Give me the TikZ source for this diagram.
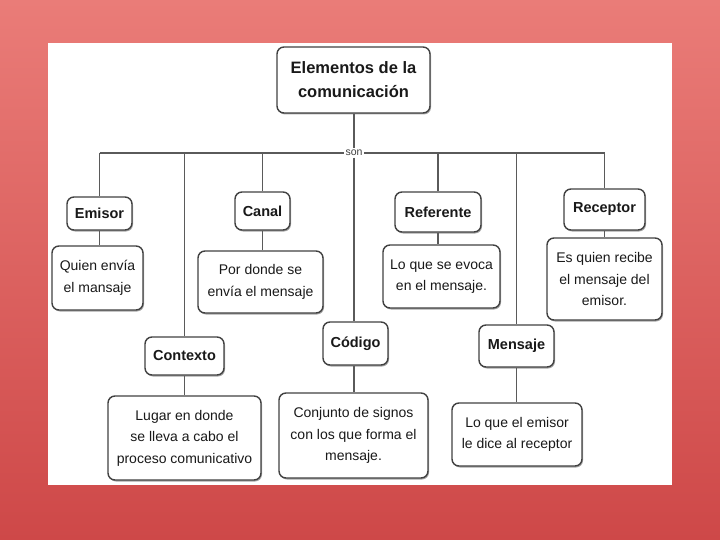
\documentclass[tikz,border=0pt]{standalone}
\usepackage{fontspec}
\setmainfont{Liberation Sans}
\usetikzlibrary{shadows}
\definecolor{bgtop}{RGB}{234,124,120}
\definecolor{bgbot}{RGB}{206,72,72}
\definecolor{edge}{RGB}{65,65,65}
\definecolor{conn}{RGB}{90,90,90}
\tikzset{
  box/.style={draw=edge, line width=1.4pt, rounded corners=7pt, fill=white,
    align=center, inner sep=0pt, text=black!90,
    drop shadow={shadow xshift=1pt, shadow yshift=-1.5pt, fill=black, opacity=0.35}},
  concept/.style={box, font=\bfseries\fontsize{14.5}{17}\selectfont},
  desc/.style={box, font=\fontsize{14}{21.5}\selectfont},
  conn/.style={draw=conn, line width=1.5pt}
}
\begin{document}
\begin{tikzpicture}[x=1pt,y=-1pt]
\shade[top color=bgtop, bottom color=bgbot] (0,0) rectangle (720,540);
\useasboundingbox (0,0) rectangle (720,540);
\fill[white] (48,43) rectangle (672,485);

% nodes
\node[concept, font=\bfseries\fontsize{16.5}{24}\selectfont, minimum width=153pt, minimum height=66pt] (title) at (353.5,80) {Elementos de la\\comunicación};
\node[font=\fontsize{10.5}{11}\selectfont, fill=white, inner sep=1.5pt, text=black!75] (son) at (354,153) {son};

\node[concept, minimum width=65pt, minimum height=33pt] (emisor) at (99.5,213.5) {Emisor};
\node[concept, minimum width=55pt, minimum height=38pt] (canal) at (262.5,211) {Canal};
\node[concept, minimum width=86pt, minimum height=40pt] (referente) at (438,212) {Referente};
\node[concept, minimum width=81pt, minimum height=41pt] (receptor) at (604.5,209.5) {Receptor};

\node[desc, minimum width=91pt, minimum height=64pt] (quien) at (97.5,278) {Quien envía\\el mansaje};
\node[desc, minimum width=125pt, minimum height=62pt] (pordonde) at (260.5,282) {Por donde se\\envía el mensaje};
\node[desc, minimum width=117pt, minimum height=63pt] (evoca) at (441.5,276.5) {Lo que se evoca\\en el mensaje.};
\node[desc, minimum width=115pt, minimum height=82pt] (recibe) at (604.5,279) {Es quien recibe\\el mensaje del\\emisor.};

\node[concept, minimum width=79pt, minimum height=38pt] (contexto) at (184.5,356) {Contexto};
\node[concept, minimum width=65pt, minimum height=43pt] (codigo) at (355.5,343.5) {Código};
\node[concept, minimum width=75pt, minimum height=42pt] (mensaje) at (516.5,346) {Mensaje};

\node[desc, minimum width=153pt, minimum height=84pt] (lugar) at (184.5,438) {Lugar en donde\\se lleva a cabo el\\proceso comunicativo};
\node[desc, minimum width=149pt, minimum height=85pt] (conjunto) at (353.5,435.5) {Conjunto de signos\\con los que forma el\\mensaje.};
\node[desc, minimum width=130pt, minimum height=63pt] (dice) at (517,434.5) {Lo que el emisor\\le dice al receptor};

% junction coordinates on the horizontal bar
\coordinate (jE) at (emisor.north |- son);
\coordinate (jX) at (contexto.north |- son);
\coordinate (jC) at (canal.north |- son);
\coordinate (jR) at (referente.north |- son);
\coordinate (jM) at (mensaje.north |- son);
\coordinate (jP) at (receptor.north |- son);

% connectors
\draw[conn] (jE) -- (son.west);
\draw[conn] (son.east) -- (jP);
\draw[conn] (title.south -| son.north) -- (son.north);
\draw[conn] (son.south) -- (son.south |- codigo.north);
\draw[conn] (jE) -- (emisor.north);
\draw[conn] (jX) -- (contexto.north);
\draw[conn] (jC) -- (canal.north);
\draw[conn] (jR) -- (referente.north);
\draw[conn] (jM) -- (mensaje.north);
\draw[conn] (jP) -- (receptor.north);
\draw[conn] (emisor.south) -- (emisor.south |- quien.north);
\draw[conn] (canal.south) -- (canal.south |- pordonde.north);
\draw[conn] (referente.south) -- (referente.south |- evoca.north);
\draw[conn] (receptor.south) -- (recibe.north);
\draw[conn] (contexto.south) -- (lugar.north);
\draw[conn] (codigo.south -| son) -- (son |- conjunto.north);
\draw[conn] (mensaje.south) -- (mensaje.south |- dice.north);
\end{tikzpicture}
\end{document}
